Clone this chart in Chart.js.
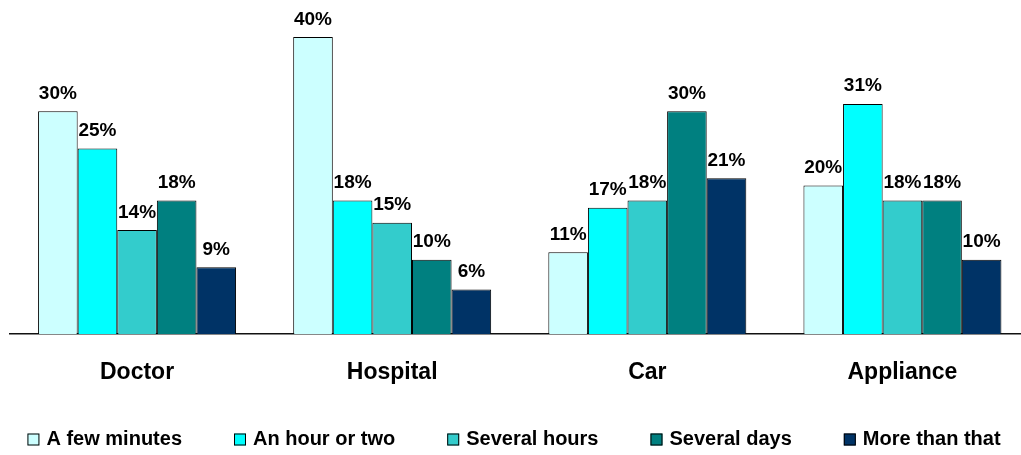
<!DOCTYPE html>
<html>
<head>
<meta charset="utf-8">
<script src="https://cdn.jsdelivr.net/npm/chart.js@4/dist/chart.umd.min.js"></script>
<style>
  html, body { margin: 0; padding: 0; background: #fff; overflow: hidden; }
  #wrap { width: 1021px; height: 455px; overflow: hidden; position: relative; }
  canvas { display: block; }
</style>
</head>
<body>
<div id="wrap"><canvas id="c" width="1030" height="455"></canvas></div>
<script>
// Where people would wait, and for how long
const categories = ['Doctor', 'Hospital', 'Car', 'Appliance'];
const seriesNames = ['A few minutes', 'An hour or two', 'Several hours', 'Several days', 'More than that'];
const fewMinutes   = [30, 40, 11, 20];
const hourOrTwo    = [25, 18, 17, 31];
const severalHours = [14, 15, 18, 18];
const severalDays  = [18, 10, 30, 18];
const moreThanThat = [9, 6, 21, 10];

const seriesValues = [fewMinutes, hourOrTwo, severalHours, severalDays, moreThanThat];
const seriesColors = ['#CCFFFF', '#00FFFF', '#33CCCC', '#008080', '#003366'];

const FONT = '"Liberation Sans", Arial, Helvetica, sans-serif';

// Percentage labels above each bar
const valueLabels = {
  id: 'valueLabels',
  afterDatasetsDraw(chart) {
    const ctx = chart.ctx;
    ctx.save();
    ctx.font = 'bold 19px ' + FONT;
    ctx.fillStyle = '#000';
    ctx.textAlign = 'center';
    ctx.textBaseline = 'alphabetic';
    chart.data.datasets.forEach((ds, i) => {
      const meta = chart.getDatasetMeta(i);
      meta.data.forEach((bar, j) => {
        ctx.fillText(ds.data[j] + '%', bar.x, bar.y - 12.5);
      });
    });
    ctx.restore();
  }
};

// Single-row legend along the bottom, built from the datasets
const bottomLegend = {
  id: 'bottomLegend',
  afterDraw(chart, args, opts) {
    const ctx = chart.ctx;
    const box = opts.boxSize, gap = opts.itemGap, textGap = opts.textGap;
    ctx.save();
    ctx.font = 'bold ' + opts.fontSize + 'px ' + FONT;
    const items = chart.data.datasets.map(ds => ({
      text: ds.label, color: ds.backgroundColor, w: ctx.measureText(ds.label).width
    }));
    const total = items.reduce((s, it) => s + box + textGap + it.w, 0) + gap * (items.length - 1);
    let x = opts.centerX - total / 2;
    const cy = opts.centerY;
    ctx.textBaseline = 'middle';
    ctx.textAlign = 'left';
    items.forEach(it => {
      ctx.fillStyle = it.color;
      ctx.fillRect(x, cy - box / 2, box, box);
      ctx.strokeStyle = '#000';
      ctx.lineWidth = 1;
      ctx.strokeRect(x + 0.5, cy - box / 2 + 0.5, box - 1, box - 1);
      ctx.fillStyle = '#000';
      ctx.fillText(it.text, x + box + textGap, cy);
      x += box + textGap + it.w + gap;
    });
    ctx.restore();
  }
};

new Chart(document.getElementById('c'), {
  type: 'bar',
  data: {
    labels: categories,
    datasets: seriesNames.map((name, i) => ({
      label: name,
      data: seriesValues[i],
      backgroundColor: seriesColors[i],
      borderColor: '#000',
      borderWidth: 1,
      barPercentage: 1,
      categoryPercentage: 0.776
    }))
  },
  options: {
    responsive: false,
    devicePixelRatio: 1,
    animation: false,
    layout: { padding: { top: 0, left: 0, right: 0, bottom: 44 } },
    plugins: {
      tooltip: { enabled: false },
      legend: { display: false },
      bottomLegend: { boxSize: 12, itemGap: 52, textGap: 7, fontSize: 20, centerX: 514, centerY: 439.5 }
    },
    scales: {
      x: {
        grid: { display: false, drawTicks: false },
        border: { display: true, color: '#111', width: 1.6 },
        ticks: {
          color: '#000',
          padding: 28.5,
          font: { family: FONT, size: 23, weight: 'bold', lineHeight: '20px' }
        }
      },
      y: {
        min: 0,
        max: 45,
        display: true,
        grid: { display: false, drawTicks: false },
        border: { display: false },
        ticks: { display: false },
        afterFit(scale) { scale.width = 9.5; }
      }
    }
  },
  plugins: [valueLabels, bottomLegend]
});
</script>
</body>
</html>
